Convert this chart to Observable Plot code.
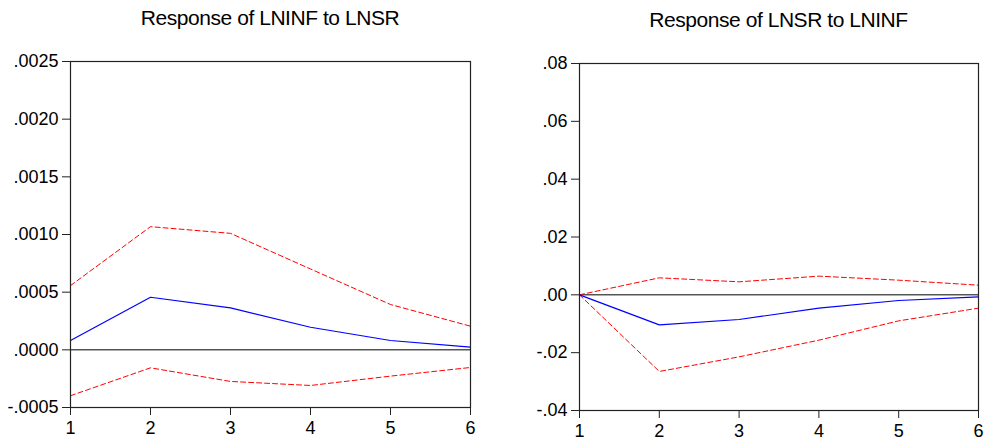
<!DOCTYPE html>
<html>
<head>
<meta charset="utf-8">
<script src="https://cdn.jsdelivr.net/npm/d3@7"></script>
<script src="https://cdn.jsdelivr.net/npm/@observablehq/plot@0.6"></script>
<style>
  html, body { margin: 0; padding: 0; background: #fff; }
  #wrap { position: relative; width: 989px; height: 440px; overflow: hidden; font-family: "Liberation Sans", Arial, sans-serif; }
  .panel { position: absolute; top: 0; }
  .title { position: absolute; font-size: 21px; letter-spacing: -0.45px; color: #000; white-space: nowrap; transform: translateX(-50%); }
  .panel svg { position: absolute; left: 0; }
</style>
</head>
<body>
<div id="wrap"></div>
<script>
// Periods (horizon)
const periods = [1, 2, 3, 4, 5, 6];

// Left panel: Response of LNINF to LNSR
const leftTitle = "Response of LNINF to LNSR";
const leftResponse = [0.000081, 0.000456, 0.000364, 0.000196, 0.000081, 0.000023];
const leftUpper    = [0.000557, 0.001068, 0.001010, 0.000701, 0.000393, 0.000205];
const leftLower    = [-0.000398, -0.000156, -0.000274, -0.000309, -0.000228, -0.000153];
const leftTicks    = [-0.0005, 0, 0.0005, 0.0010, 0.0015, 0.0020, 0.0025];

// Right panel: Response of LNSR to LNINF
const rightTitle = "Response of LNSR to LNINF";
const rightResponse = [0, -0.01038, -0.00853, -0.00461, -0.00196, -0.0007];
const rightUpper    = [0, 0.00588, 0.0045, 0.00646, 0.00507, 0.00334];
const rightLower    = [0, -0.0265, -0.02145, -0.01568, -0.0090, -0.00461];
const rightTicks    = [-0.04, -0.02, 0, 0.02, 0.04, 0.06, 0.08];

function fmt(decimals) {
  return v => {
    const s = Math.abs(v).toFixed(decimals).replace(/^0\./, ".");
    return (v < 0 ? "-" : "") + s;
  };
}

function makePanel({left, width, titleTop, svgTop, marginLeft, marginRight, marginTop, marginBottom, height, title, resp, up, lo, yDomain, yTicks, decimals}) {
  const panel = document.createElement("div");
  panel.className = "panel";
  panel.style.left = left + "px";
  panel.style.width = width + "px";
  panel.style.height = "440px";

  const t = document.createElement("div");
  t.className = "title";
  t.textContent = title;
  const frameCenter = marginLeft + (width - marginLeft - marginRight) / 2;
  t.style.left = frameCenter + "px";
  t.style.top = titleTop + "px";
  panel.appendChild(t);

  const rows = k => periods.map((p, i) => ({p, v: k[i]}));
  const chart = Plot.plot({
    width, height, marginLeft, marginRight, marginTop, marginBottom,
    style: {fontFamily: '"Liberation Sans", Arial, sans-serif', fontSize: "18px", color: "#000", background: "transparent", overflow: "visible"},
    x: {domain: [1, 6], ticks: periods, tickFormat: d => String(d), tickSize: 8, tickPadding: 6, label: null},
    y: {domain: yDomain, ticks: yTicks, tickFormat: fmt(decimals), tickSize: 8, tickPadding: 4, label: null},
    marks: [
      Plot.ruleY([0], {stroke: "#000", strokeWidth: 1}),
      Plot.line(rows(up), {x: "p", y: "v", stroke: "#ff0000", strokeWidth: 1, strokeDasharray: "5,3"}),
      Plot.line(rows(lo), {x: "p", y: "v", stroke: "#ff0000", strokeWidth: 1, strokeDasharray: "5,3"}),
      Plot.line(rows(resp), {x: "p", y: "v", stroke: "#0000ff", strokeWidth: 1.2}),
      Plot.frame({stroke: "#222", strokeWidth: 1.2}),
      Plot.axisX({ticks: periods, tickFormat: d => String(d), tickSize: 8, tickPadding: 6, stroke: "#222", fontSize: 18}),
      Plot.axisY({ticks: yTicks, tickFormat: fmt(decimals), tickSize: 8, tickPadding: 4, stroke: "#222", fontSize: 18})
    ]
  });
  chart.style.top = svgTop + "px";
  panel.appendChild(chart);
  document.getElementById("wrap").appendChild(panel);
}

makePanel({
  left: 0, width: 485, titleTop: 6, svgTop: 0,
  marginLeft: 70, marginRight: 15, marginTop: 61, marginBottom: 33, height: 440,
  title: leftTitle, resp: leftResponse, up: leftUpper, lo: leftLower,
  yDomain: [-0.0005, 0.0025], yTicks: leftTicks, decimals: 4
});

makePanel({
  left: 500, width: 489, titleTop: 8, svgTop: 0,
  marginLeft: 79, marginRight: 11, marginTop: 63, marginBottom: 30, height: 440,
  title: rightTitle, resp: rightResponse, up: rightUpper, lo: rightLower,
  yDomain: [-0.04, 0.08], yTicks: rightTicks, decimals: 2
});
</script>
</body>
</html>
